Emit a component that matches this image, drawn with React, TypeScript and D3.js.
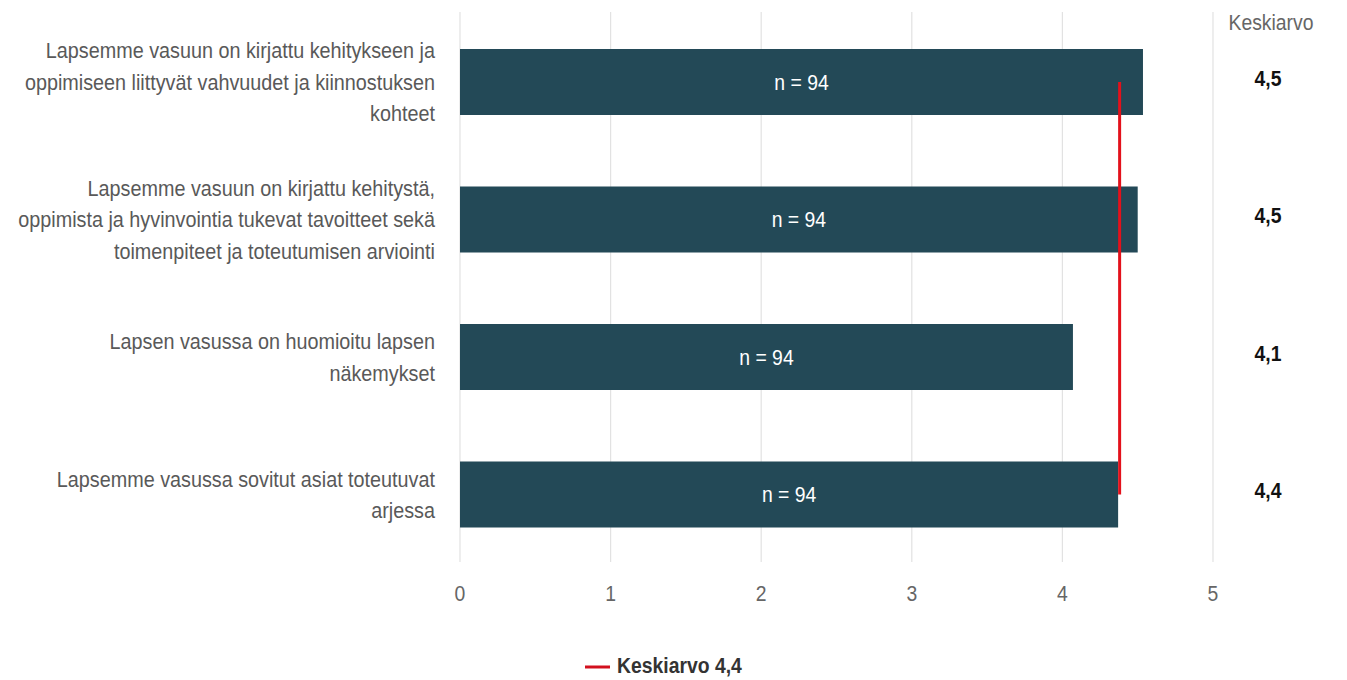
import React, { useEffect } from "react";
import * as d3 from "d3";

const categories: string[][] = [
  ["Lapsemme vasuun on kirjattu kehitykseen ja", "oppimiseen liittyvät vahvuudet ja kiinnostuksen", "kohteet"],
  ["Lapsemme vasuun on kirjattu kehitystä,", "oppimista ja hyvinvointia tukevat tavoitteet sekä", "toimenpiteet ja toteutumisen arviointi"],
  ["Lapsen vasussa on huomioitu lapsen", "näkemykset"],
  ["Lapsemme vasussa sovitut asiat toteutuvat", "arjessa"],
];
const values: number[] = [4.535, 4.5, 4.07, 4.37];
const counts: number[] = [94, 94, 94, 94];
const overallMean = 4.38;
const xTicks: number[] = [0, 1, 2, 3, 4, 5];

const W = 1347;
const H = 680;
const FONT = "'Liberation Sans', Arial, sans-serif";
const fmt = (v: number) => d3.format(".1f")(v).replace(".", ",");

type TProps = {
  x: number;
  y: number;
  anchor?: "start" | "middle" | "end";
  size: number;
  fill: string;
  weight?: string;
  sx?: number;
  children: React.ReactNode;
};
function T({ x, y, anchor = "start", size, fill, weight = "normal", sx = 0.88, children }: TProps) {
  return (
    <g transform={`translate(${x},${y}) scale(${sx},1)`}>
      <text x={0} y={0} textAnchor={anchor} dominantBaseline="central" fontSize={size} fontWeight={weight} fill={fill}>
        {children}
      </text>
    </g>
  );
}

export default function App() {
  useEffect(() => {
    document.body.style.margin = "0";
  }, []);

  const x = d3.scaleLinear().domain([0, 5]).range([460, 1213]);
  const y = d3
    .scaleBand<number>()
    .domain(d3.range(categories.length))
    .range([13.25, 563.25])
    .paddingInner(0.52)
    .paddingOuter(0.26);
  const bw = y.bandwidth();
  const c = (i: number) => (y(i) as number) + bw / 2;
  const lineH = 31.5;

  return (
    <svg width={W} height={H} style={{ display: "block", fontFamily: FONT }}>
      <rect width={W} height={H} fill="#fff" />
      {xTicks.map((t) => (
        <line key={"g" + t} x1={x(t)} x2={x(t)} y1={12} y2={562} stroke="#e2e2e2" strokeWidth={1.2} />
      ))}
      {xTicks.map((t) => (
        <T key={"t" + t} x={x(t)} y={593} anchor="middle" size={22} fill="#666">
          {t}
        </T>
      ))}
      {values.map((v, i) => (
        <g key={"b" + i}>
          <rect x={x(0)} y={y(i)} width={x(v) - x(0)} height={bw} fill="#234957" />
          <T x={(x(0) + x(v)) / 2} y={c(i)} anchor="middle" size={22} fill="#fff">
            {"n = " + counts[i]}
          </T>
          {categories[i].map((ln, k) => (
            <T
              key={k}
              x={435}
              y={c(i) + (k - (categories[i].length - 1) / 2) * lineH}
              anchor="end"
              size={22}
              sx={0.9}
              fill="#595959"
            >
              {ln}
            </T>
          ))}
          <T x={1268} y={c(i) - 4} anchor="middle" size={22} weight="bold" fill="#111">
            {fmt(v)}
          </T>
        </g>
      ))}
      <line x1={x(overallMean)} x2={x(overallMean)} y1={c(0)} y2={c(categories.length - 1)} stroke="#e3111b" strokeWidth={3} />
      <T x={1271} y={22} anchor="middle" size={22} fill="#666">
        Keskiarvo
      </T>
      <line x1={585} x2={610} y1={667} y2={667} stroke="#d2101e" strokeWidth={3} />
      <T x={617} y={665} size={22} weight="bold" fill="#333">
        {"Keskiarvo " + fmt(overallMean)}
      </T>
    </svg>
  );
}
